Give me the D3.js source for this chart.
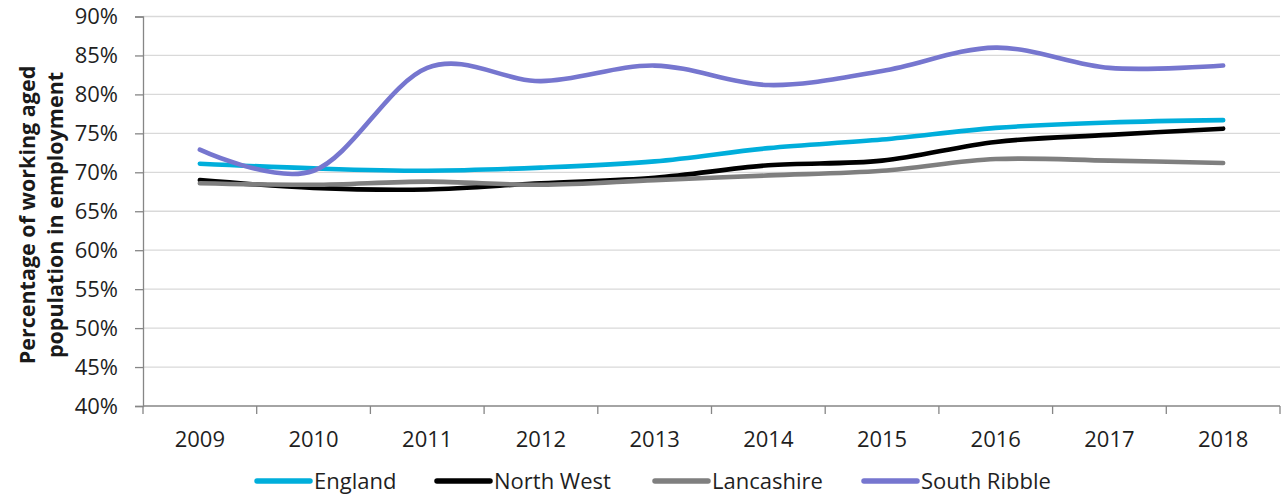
<!DOCTYPE html>
<html>
<head>
<meta charset="utf-8">
<script src="https://cdn.jsdelivr.net/npm/d3@7"></script>
<style>
  html, body { margin: 0; padding: 0; background: #fff; }
  svg { display: block; font-family: "Open Sans", sans-serif; }
</style>
</head>
<body>
<svg id="chart" width="1282" height="495"></svg>
<script>
// Employment rate of the working-age population, 2009–2018
const years = ["2009", "2010", "2011", "2012", "2013", "2014", "2015", "2016", "2017", "2018"];
const england     = [71.1, 70.5, 70.2, 70.6, 71.4, 73.1, 74.2, 75.7, 76.4, 76.7];
const northWest   = [69.0, 68.0, 67.8, 68.6, 69.3, 70.9, 71.5, 73.9, 74.8, 75.6];
const lancashire  = [68.6, 68.4, 68.8, 68.4, 69.0, 69.6, 70.2, 71.7, 71.5, 71.2];
const southRibble = [72.9, 70.2, 83.4, 81.7, 83.7, 81.2, 83.0, 86.0, 83.4, 83.7];
const seriesNames = ["England", "North West", "Lancashire", "South Ribble"];
const yTicks = [40, 45, 50, 55, 60, 65, 70, 75, 80, 85, 90];

const seriesValues = [england, northWest, lancashire, southRibble];
const colors = ["#00AEDB", "#000000", "#7F7F7F", "#7676CF"];

const svg = d3.select("#chart");
const plotLeft = 143, plotRight = 1280, plotTop = 16.5, plotBottom = 406;

const x = d3.scaleBand().domain(years).range([plotLeft, plotRight]).padding(0);
const y = d3.scaleLinear().domain([40, 90]).range([plotBottom, plotTop]);
const cx = d => x(d) + x.bandwidth() / 2;

// horizontal gridlines
svg.append("g")
  .selectAll("line")
  .data(yTicks.filter(t => t > 40))
  .join("line")
  .attr("x1", plotLeft).attr("x2", plotRight)
  .attr("y1", d => y(d)).attr("y2", d => y(d))
  .attr("stroke", "#D9D9D9").attr("stroke-width", 1.3);

// y axis
const yAxis = svg.append("g")
  .attr("transform", `translate(${plotLeft},0)`)
  .call(d3.axisLeft(y).tickValues(yTicks).tickFormat(d => d + "%").tickSize(8).tickPadding(17));
yAxis.select(".domain").attr("stroke", "#868686").attr("stroke-width", 1.3);
yAxis.selectAll(".tick line").attr("stroke", "#868686").attr("stroke-width", 1.3);
yAxis.selectAll(".tick text")
  .attr("font-family", "Open Sans").attr("font-size", 22).attr("fill", "#1f1f1f");

// x axis: line with ticks on category boundaries
const xg = svg.append("g");
xg.append("line")
  .attr("x1", plotLeft).attr("x2", plotRight).attr("y1", plotBottom).attr("y2", plotBottom)
  .attr("stroke", "#868686").attr("stroke-width", 1.3);
const boundaries = years.map(d => x(d)).concat([x(years[years.length - 1]) + x.bandwidth()]);
xg.selectAll("line.tick")
  .data(boundaries)
  .join("line")
  .attr("class", "tick")
  .attr("x1", d => d).attr("x2", d => d)
  .attr("y1", plotBottom).attr("y2", plotBottom + 8)
  .attr("stroke", "#868686").attr("stroke-width", 1.3);
xg.selectAll("text")
  .data(years)
  .join("text")
  .attr("x", d => cx(d))
  .attr("y", 447)
  .attr("text-anchor", "middle")
  .attr("font-size", 22)
  .attr("fill", "#1f1f1f")
  .text(d => d);

// y axis title
const title = svg.append("text")
  .attr("transform", "translate(0,215) rotate(-90)")
  .attr("text-anchor", "middle")
  .attr("font-weight", "bold")
  .attr("font-size", 21.5)
  .attr("fill", "#1a1a1a");
title.append("tspan").attr("x", 0).attr("y", 35).text("Percentage of working aged");
title.append("tspan").attr("x", 0).attr("y", 63).text("population in employment");

// series lines
const line = d3.line()
  .x((v, i) => cx(years[i]))
  .y(v => y(v))
  .curve(d3.curveCardinal.tension(0));

svg.append("g")
  .selectAll("path")
  .data(seriesValues)
  .join("path")
  .attr("d", d => line(d))
  .attr("fill", "none")
  .attr("stroke", (d, i) => colors[i])
  .attr("stroke-width", 4.6)
  .attr("stroke-linecap", "round")
  .attr("stroke-linejoin", "round");

// legend
const legendX = [257, 437, 655, 864];
const legend = svg.append("g");
seriesNames.forEach((name, i) => {
  const g = legend.append("g").attr("transform", `translate(${legendX[i]},481)`);
  g.append("line")
    .attr("x1", 0).attr("x2", 53).attr("y1", 0).attr("y2", 0)
    .attr("stroke", colors[i]).attr("stroke-width", 5.5).attr("stroke-linecap", "round");
  g.append("text")
    .attr("x", 57).attr("y", 8)
    .attr("font-size", 22).attr("fill", "#1f1f1f")
    .text(name);
});
</script>
</body>
</html>
